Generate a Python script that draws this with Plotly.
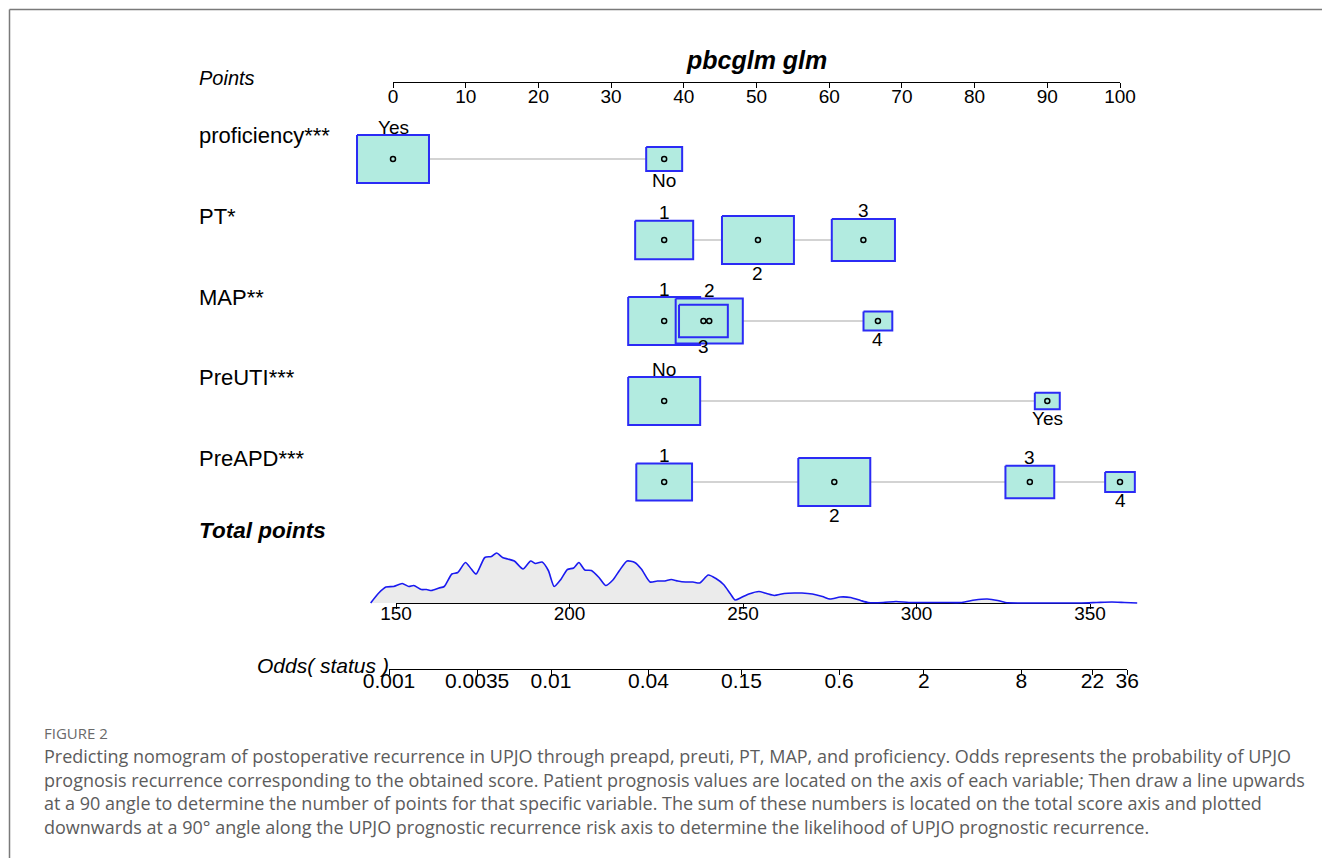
import numpy as np
import plotly.graph_objects as go

# ---------------- data ----------------
title_text = "pbcglm glm"
variables = ["proficiency***", "PT*", "MAP**", "PreUTI***", "PreAPD***"]

prof_levels = ["Yes", "No"]
prof_points = [0.0, 37.3]
prof_freq = [1.0, 0.25]

pt_levels = ["1", "2", "3"]
pt_points = [37.3, 50.2, 64.7]
pt_freq = [0.65, 1.0, 0.77]

map_levels = ["1", "2", "3", "4"]
map_points = [37.3, 43.5, 42.7, 66.7]
map_freq = [1.0, 0.87, 0.46, 0.16]

preuti_levels = ["No", "Yes"]
preuti_points = [37.3, 90.0]
preuti_freq = [1.0, 0.12]

preapd_levels = ["1", "2", "3", "4"]
preapd_points = [37.3, 60.7, 87.6, 100.0]
preapd_freq = [0.60, 1.0, 0.46, 0.17]

points_ticks = [0, 10, 20, 30, 40, 50, 60, 70, 80, 90, 100]
total_ticks = [150, 200, 250, 300, 350]
odds_ticks = [0.001, 0.0035, 0.01, 0.04, 0.15, 0.6, 2, 8, 22, 36]
odds_labels = ["0.001", "0.0035", "0.01", "0.04", "0.15", "0.6", "2", "8", "22", "36"]

# distribution of total points (relative density)
tp_grid = [142.7, 144.9, 147.1, 149.3, 151.8, 153.7, 155.1, 157.3, 158.8, 160.2, 162.4, 163.9,
           166.1, 167.8, 170.0, 171.7, 173.1, 175.6, 177.5, 179.0, 180.7, 182.2, 184.1, 186.6,
           188.8, 190.2, 192.1, 193.9, 195.6, 197.5, 199.4, 201.2, 202.7, 204.4, 206.3, 208.5,
           210.4, 212.5, 214.4, 216.6, 218.8, 220.7, 223.2, 225.3, 227.5, 229.3, 231.2, 233.4,
           235.6, 237.5, 240.0, 242.2, 244.4, 246.3, 247.7, 249.5, 251.7, 254.6, 256.8, 259.0,
           261.9, 264.8, 267.0, 270.0, 272.9, 275.1, 278.0, 281.0, 283.9, 286.1, 290.4, 294.1,
           297.8, 302.1, 308.0, 313.1, 316.8, 320.4, 323.4, 325.6, 330.0, 337.3, 347.5, 351.9,
           356.3, 359.9, 363.6]
tp_density = [0.0, 0.19, 0.32, 0.33, 0.39, 0.33, 0.35, 0.27, 0.27, 0.25, 0.30, 0.33,
              0.58, 0.61, 0.81, 0.68, 0.58, 0.91, 0.93, 1.0, 0.91, 0.88, 0.84, 0.68,
              0.84, 0.79, 0.82, 0.65, 0.33, 0.47, 0.67, 0.70, 0.81, 0.66, 0.65, 0.51,
              0.35, 0.46, 0.65, 0.84, 0.81, 0.68, 0.42, 0.44, 0.44, 0.47, 0.44, 0.42,
              0.42, 0.40, 0.56, 0.49, 0.37, 0.19, 0.06, 0.11, 0.18, 0.23, 0.19, 0.15,
              0.19, 0.20, 0.20, 0.18, 0.13, 0.08, 0.12, 0.11, 0.05, 0.01, 0.01, 0.03,
              0.01, 0.01, 0.01, 0.01, 0.06, 0.08, 0.05, 0.01, 0.0, 0.0, 0.0, 0.01,
              0.02, 0.01, 0.0]

caption_head = "FIGURE 2"
caption_lines = [
    "Predicting nomogram of postoperative recurrence in UPJO through preapd, preuti, PT, MAP, and proficiency. Odds represents the probability of UPJO",
    "prognosis recurrence corresponding to the obtained score. Patient prognosis values are located on the axis of each variable; Then draw a line upwards",
    "at a 90 angle to determine the number of points for that specific variable. The sum of these numbers is located on the total score axis and plotted",
    "downwards at a 90° angle along the UPJO prognostic recurrence risk axis to determine the likelihood of UPJO prognostic recurrence.",
]

# ---------------- layout constants ----------------
W, H = 1322, 858
PX0, PPP = 393.0, 7.27          # points scale: pixel of 0, pixels per point
TPX150, PPT = 396.0, 3.47       # total points scale
ODX, PPD = 389.0, 162.0         # odds scale: pixel of 0.001, pixels per decade
FONT = "Liberation Sans, Arial, sans-serif"
CAP_FONT = "Open Sans, sans-serif"
BOX_FILL = "#B2EBE0"
BOX_LINE = "#2B2BF5"
row_y = [159, 240, 321, 401, 482]
MAX_W_PTS = 9.9
MAX_H_PX = 48.0

def pxx(p):
    return p / W

def pxy(p):
    return 1 - p / H

fig = go.Figure()

rows = [
    (prof_levels, prof_points, prof_freq),
    (pt_levels, pt_points, pt_freq),
    (map_levels, map_points, map_freq),
    (preuti_levels, preuti_points, preuti_freq),
    (preapd_levels, preapd_points, preapd_freq),
]

annotations = []

for (levels, pts, freq), yc, name in zip(rows, row_y, variables):
    fig.add_trace(go.Scatter(x=[min(pts), max(pts)], y=[yc, yc], mode="lines",
                             line=dict(color="#C4C4C4", width=1.5),
                             hoverinfo="skip", showlegend=False))
    order = np.argsort(pts, kind="stable")
    side = {}
    for rank, idx in enumerate(order):
        side[idx] = "above" if rank % 2 == 0 else "below"
    for i, (lev, p, f) in enumerate(zip(levels, pts, freq)):
        s = np.sqrt(f)
        hw = s * MAX_W_PTS / 2
        hh = s * MAX_H_PX / 2
        fig.add_trace(go.Scatter(
            x=[p - hw, p + hw, p + hw, p - hw, p - hw],
            y=[yc - hh, yc - hh, yc + hh, yc + hh, yc - hh],
            mode="lines", fill="toself", fillcolor=BOX_FILL,
            line=dict(color=BOX_LINE, width=2),
            hoverinfo="skip", showlegend=False))
        ly = yc - hh - 8 if side[i] == "above" else yc + hh + 9
        annotations.append(dict(x=p, y=ly, xref="x", yref="y", text=lev, showarrow=False,
                                xanchor="center", yanchor="middle",
                                font=dict(family=FONT, size=19, color="black")))
    fig.add_trace(go.Scatter(x=pts, y=[yc] * len(pts), mode="markers",
                             marker=dict(symbol="circle-open", size=5, color="black",
                                         line=dict(width=1.5, color="black")),
                             hoverinfo="skip", showlegend=False))
    annotations.append(dict(x=pxx(197), y=yc - 24, xref="paper", yref="y", text=name,
                            showarrow=False, xanchor="left", yanchor="middle",
                            font=dict(family=FONT, size=22, color="black")))

# density of total points
dens_y = [603 - d * 50 for d in tp_density]
fig.add_trace(go.Scatter(x=tp_grid, y=[603] * len(tp_grid), mode="lines",
                         line=dict(width=0, color="rgba(0,0,0,0)"), xaxis="x4", yaxis="y",
                         hoverinfo="skip", showlegend=False))
fig.add_trace(go.Scatter(x=tp_grid, y=dens_y, mode="lines",
                         line=dict(color="#1A1AF0", width=1.6, shape="spline", smoothing=0.6),
                         fill="tonexty", fillcolor="#EBEBEB", xaxis="x4", yaxis="y",
                         hoverinfo="skip", showlegend=False))

# invisible anchors for the scale axes
fig.add_trace(go.Scatter(x=[50], y=[-100], xaxis="x3", yaxis="y", mode="markers",
                         marker=dict(opacity=0), hoverinfo="skip", showlegend=False))
fig.add_trace(go.Scatter(x=[250], y=[-100], xaxis="x2", yaxis="y", mode="markers",
                         marker=dict(opacity=0), hoverinfo="skip", showlegend=False))
fig.add_trace(go.Scatter(x=[1], y=[-100], xaxis="x5", yaxis="y", mode="markers",
                         marker=dict(opacity=0), hoverinfo="skip", showlegend=False))

axis_common = dict(showline=True, linecolor="black", linewidth=1.3, ticks="outside",
                   ticklen=5, tickwidth=1.2, tickcolor="black", showgrid=False,
                   zeroline=False, anchor="free", side="bottom",
                   fixedrange=True, automargin=False)

odds_end = ODX + PPD * (np.log10(odds_ticks[-1]) - np.log10(odds_ticks[0]))

fig.update_layout(
    width=W, height=H, autosize=False,
    margin=dict(l=0, r=0, t=0, b=0, pad=0, autoexpand=False),
    paper_bgcolor="white", plot_bgcolor="rgba(0,0,0,0)",
    xaxis=dict(domain=[0, 1], range=[-PX0 / PPP, (W - PX0) / PPP], visible=False,
               fixedrange=True, automargin=False),
    yaxis=dict(domain=[0, 1], range=[H, 0], visible=False, fixedrange=True, automargin=False),
    xaxis4=dict(domain=[0, 1], range=[150 - TPX150 / PPT, 150 + (W - TPX150) / PPT],
                visible=False, anchor="y", fixedrange=True, automargin=False),
    xaxis3=dict(domain=[pxx(PX0), pxx(PX0 + 100 * PPP)], range=[0, 100],
                tickvals=points_ticks, position=pxy(82), ticklabelstandoff=-8,
                tickfont=dict(family=FONT, size=19, color="black"), **axis_common),
    xaxis2=dict(domain=[pxx(TPX150), pxx(TPX150 + 200 * PPT)], range=[150, 350],
                tickvals=total_ticks, position=pxy(603), ticklabelstandoff=-12,
                tickfont=dict(family=FONT, size=19, color="black"), **axis_common),
    xaxis5=dict(domain=[pxx(ODX), pxx(odds_end)], type="log",
                range=[np.log10(odds_ticks[0]), np.log10(odds_ticks[-1])],
                tickvals=odds_ticks, ticktext=odds_labels, position=pxy(669),
                ticklabelstandoff=-12,
                tickfont=dict(family=FONT, size=21, color="black"), **axis_common),
    showlegend=False,
)

annotations += [
    dict(x=50, y=60, xref="x", yref="y", text="<b><i>" + title_text + "</i></b>", showarrow=False,
         xanchor="center", yanchor="middle", font=dict(family=FONT, size=25, color="black")),
    dict(x=pxx(197), y=78, xref="paper", yref="y", text="<i>Points</i>", showarrow=False,
         xanchor="left", yanchor="middle", font=dict(family=FONT, size=20, color="black")),
    dict(x=pxx(197), y=530, xref="paper", yref="y", text="<b><i>Total points</i></b>", showarrow=False,
         xanchor="left", yanchor="middle", font=dict(family=FONT, size=22.5, color="black")),
    dict(x=pxx(255), y=665, xref="paper", yref="y", text="<i>Odds( status )</i>", showarrow=False,
         xanchor="left", yanchor="middle", font=dict(family=FONT, size=21, color="black")),
    dict(x=pxx(42), y=733, xref="paper", yref="y", text=caption_head, showarrow=False,
         xanchor="left", yanchor="middle",
         font=dict(family=CAP_FONT, size=15, color="#6a6a6a")),
]
for i, line in enumerate(caption_lines):
    annotations.append(dict(x=pxx(42), y=756 + i * 23.7, xref="paper", yref="y", text=line,
                            showarrow=False, xanchor="left", yanchor="middle",
                            font=dict(family=CAP_FONT, size=18, color="#5c5c5c")))

fig.update_layout(annotations=annotations)

fig.add_shape(type="line", xref="paper", yref="paper", x0=pxx(9.5), x1=1, y0=pxy(9.5), y1=pxy(9.5),
              line=dict(color="#7a7a7a", width=1.5))
fig.add_shape(type="line", xref="paper", yref="paper", x0=pxx(9.5), x1=pxx(9.5), y0=pxy(9.5), y1=0,
              line=dict(color="#7a7a7a", width=1.5))

fig.write_html("out.html", config={"responsive": False, "displayModeBar": False},
               post_script="document.body.style.margin='0px';document.body.style.overflow='hidden';")
